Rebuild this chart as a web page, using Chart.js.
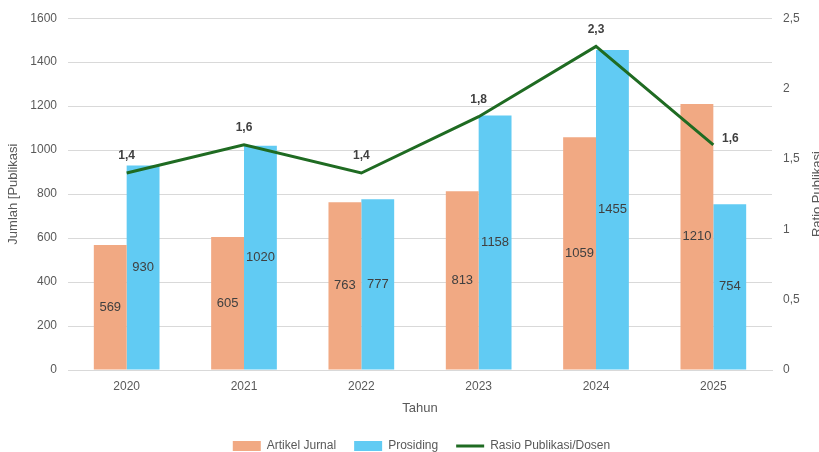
<!DOCTYPE html>
<html>
<head>
<meta charset="utf-8">
<script src="https://cdn.jsdelivr.net/npm/chart.js@4"></script>
<style>
    html, body { margin: 0; padding: 0; background: white; }
    #wrap { width: 819px; height: 452px; }
</style>
</head>
<body>
<div id="wrap"><canvas id="myChart"></canvas></div>
<script>
const years = ['2020', '2021', '2022', '2023', '2024', '2025'];
const artikelJurnal = [569, 605, 763, 813, 1059, 1210];
const prosiding = [930, 1020, 777, 1158, 1455, 754];
const rasio = [1.4, 1.6, 1.4, 1.8, 2.3, 1.6];

const leftTicks = [0, 200, 400, 600, 800, 1000, 1200, 1400, 1600];
const rightTicks = [0, 0.5, 1, 1.5, 2, 2.5];

const fontFamily = "'Liberation Sans', Arial, sans-serif";
const tickColor = '#595959';

function comma(v) {
    return String(v).replace('.', ',');
}

// labels on bars and line points, plus the right axis title
const valueLabels = {
    id: 'valueLabels',
    afterLayout(chart) {
        // the original legend sits a bit right of centre
        chart.legend.left += 12;
        chart.legend.right += 12;
    },
    afterDatasetsDraw(chart) {
        const ctx = chart.ctx;
        ctx.save();
        ctx.textAlign = 'center';
        ctx.textBaseline = 'middle';
        chart.data.datasets.forEach((ds, di) => {
            const meta = chart.getDatasetMeta(di);
            meta.data.forEach((el, i) => {
                if (ds.type === 'line') {
                    ctx.font = 'bold 12px ' + fontFamily;
                    ctx.fillStyle = '#404040';
                    let x = el.x, y = el.y - 17;
                    if (i === meta.data.length - 1) { x = el.x + 17; y = el.y - 6; }
                    ctx.fillText(comma(ds.data[i]), x, y);
                } else {
                    ctx.font = '13px ' + fontFamily;
                    ctx.fillStyle = '#404040';
                    ctx.fillText(ds.data[i], el.x, (el.y + el.base) / 2);
                }
            });
        });
        const y1 = chart.scales.y1;
        ctx.translate(817, (y1.top + y1.bottom) / 2);
        ctx.rotate(-Math.PI / 2);
        ctx.font = '13px ' + fontFamily;
        ctx.fillStyle = tickColor;
        ctx.fillText('Ratio Publikasi', 0, 0);
        ctx.restore();
    }
};

const ctx = document.getElementById('myChart');

new Chart(ctx, {
    data: {
        labels: years,
        datasets: [
            {
                type: 'line',
                label: 'Rasio Publikasi/Dosen',
                data: rasio,
                yAxisID: 'y1',
                borderColor: '#1F6B22',
                backgroundColor: '#1F6B22',
                borderWidth: 3,
                pointRadius: 0,
                pointStyle: 'line',
                tension: 0,
                order: 0
            },
            {
                type: 'bar',
                label: 'Artikel Jurnal',
                data: artikelJurnal,
                yAxisID: 'y',
                backgroundColor: '#F1A983',
                pointStyle: 'rect',
                barPercentage: 1,
                categoryPercentage: 0.56,
                order: 1
            },
            {
                type: 'bar',
                label: 'Prosiding',
                data: prosiding,
                yAxisID: 'y',
                backgroundColor: '#61CBF3',
                pointStyle: 'rect',
                barPercentage: 1,
                categoryPercentage: 0.56,
                order: 1
            }
        ]
    },
    options: {
        responsive: true,
        maintainAspectRatio: false,
        animation: false,
        layout: { padding: { top: 18, left: 0, right: 0, bottom: -10 } },
        scales: {
            x: {
                afterFit: (s) => { s.height = 52; },
                grid: { display: false },
                border: { color: '#D9D9D9' },
                ticks: { color: tickColor, padding: 1, font: { family: fontFamily, size: 12 } },
                title: {
                    display: true,
                    text: 'Tahun',
                    color: tickColor,
                    font: { family: fontFamily, size: 13 },
                    padding: { top: 0, bottom: 6 }
                }
            },
            y: {
                position: 'left',
                min: 0,
                max: 1600,
                afterBuildTicks: (s) => { s.ticks = leftTicks.map(v => ({ value: v })); },
                afterFit: (s) => { s.width = 68; },
                grid: { color: '#D9D9D9', drawTicks: false },
                border: { display: false },
                ticks: {
                    color: tickColor,
                    padding: 11,
                    font: { family: fontFamily, size: 12 },
                    callback: (v) => String(v)
                },
                title: {
                    display: true,
                    text: 'Jumlah [Publikasi',
                    color: tickColor,
                    font: { family: fontFamily, size: 13 },
                    padding: { top: 6, bottom: 0 }
                }
            },
            y1: {
                position: 'right',
                min: 0,
                max: 2.5,
                afterBuildTicks: (s) => { s.ticks = rightTicks.map(v => ({ value: v })); },
                afterFit: (s) => { s.width = 47; },
                grid: { display: false, drawTicks: false },
                border: { display: false },
                ticks: {
                    color: tickColor,
                    padding: 11,
                    font: { family: fontFamily, size: 12 },
                    callback: (v) => comma(v)
                }
            }
        },
        plugins: {
            legend: {
                position: 'bottom',
                labels: {
                    color: tickColor,
                    font: { family: fontFamily, size: 12 },
                    usePointStyle: true,
                    pointStyleWidth: 28,
                    boxHeight: 10,
                    padding: 18,
                    sort: (a, b) => (a.datasetIndex === 0 ? 1 : 0) - (b.datasetIndex === 0 ? 1 : 0)
                }
            },
            tooltip: { enabled: false }
        }
    },
    plugins: [valueLabels]
});
</script>
</body>
</html>
